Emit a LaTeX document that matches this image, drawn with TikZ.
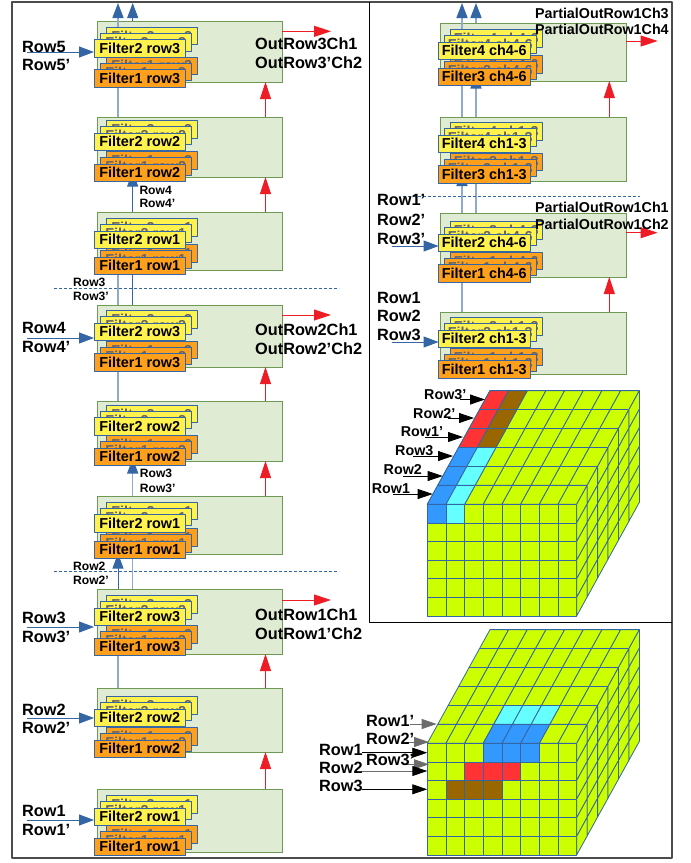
\documentclass[tikz,border=0pt]{standalone}
\usepackage{fontspec}
\setmainfont{Liberation Sans}
\usetikzlibrary{arrows.meta}
\pgfdeclarelayer{boxes}
\pgfdeclarelayer{wires}
\pgfsetlayers{boxes,wires,main}

\definecolor{boxgreen}{HTML}{DFECD3}
\definecolor{boxedge}{HTML}{6F9A55}
\definecolor{sheetyellow}{HTML}{FFF24D}
\definecolor{sheetorange}{HTML}{FFA01C}
\definecolor{wireblue}{HTML}{3465A4}
\definecolor{wirelight}{HTML}{8FAACC}
\definecolor{arrowred}{HTML}{EE1C25}
\definecolor{cellgreen}{HTML}{CCFF00}
\definecolor{cellblue}{HTML}{3399FF}
\definecolor{cellcyan}{HTML}{66FFFF}
\definecolor{cellred}{HTML}{FF3333}
\definecolor{cellbrown}{HTML}{996600}

% One stack of filter sheets: name, x, top of yellow, top of orange, two labels
\newcommand{\filterstack}[6]{
  \node[sheet,backsheet,fill=sheetyellow] (fyc#1) at (#2+12,#3) {\raisebox{-1.3pt}{#5}};
  \node[sheet,backsheet,fill=sheetyellow] (fyb#1) at (#2+6,#3+6.2) {\raisebox{-1.3pt}{#5}};
  \node[sheet,backsheet,fill=sheetorange] (foc#1) at (#2+12,#4) {\raisebox{-1.3pt}{#6}};
  \node[sheet,backsheet,fill=sheetorange] (fob#1) at (#2+6,#4+6.2) {\raisebox{-1.3pt}{#6}};
  \node[sheet,fill=sheetyellow] (fy#1) at (#2,#3+12.4) {#5};
  \node[sheet,fill=sheetorange] (fo#1) at (#2,#4+12.4) {#6};
}
% Single cells of a cube; origin is the upper left corner of the front face
\newcommand{\cubetop}[3]{\filldraw[cubeline,fill=#1]
  ({#2*18.67+#3*10.45},{-#3*18.95}) -- ++(18.67,0) -- ++(10.45,-18.95)
  -- ++(-18.67,0) -- cycle;}
\newcommand{\cubefront}[3]{\filldraw[cubeline,fill=#1]
  ({#2*18.67},{#3*18.6}) rectangle ++(18.67,18.6);}
\newcommand{\cubeside}[2]{\filldraw[cubeline,fill=cellgreen]
  ({149.4+#1*10.45},{#2*18.6-#1*18.95}) -- ++(10.45,-18.95) -- ++(0,18.6)
  -- ++(-10.45,18.95) -- cycle;}
\newcommand{\cubeplain}{
  \foreach \l in {0,...,5} \foreach \c in {0,...,7} \cubetop{cellgreen}{\c}{\l};
  \foreach \r in {0,...,5} \foreach \c in {0,...,7} \cubefront{cellgreen}{\c}{\r};
  \foreach \l in {0,...,5} \foreach \r in {0,...,5} \cubeside{\l}{\r};
}

\begin{document}
\begin{tikzpicture}[x=1pt,y=-1pt,line join=round,
    rowbox/.style={draw=boxedge,fill=boxgreen,line width=.9pt,anchor=north west,
      inner sep=0pt,outer sep=0pt},
    sheet/.style={draw=wireblue,line width=.9pt,anchor=north west,inner sep=0pt,
      outer sep=0pt,minimum width=91.5pt,minimum height=17.5pt,
      font=\fontsize{14.4}{16}\selectfont\bfseries},
    backsheet/.style={text=black!60},
    biglabel/.style={anchor=west,inner sep=0pt,font=\fontsize{16.3}{18}\selectfont\bfseries},
    midlabel/.style={anchor=west,inner sep=0pt,font=\fontsize{14.3}{16}\selectfont\bfseries},
    smalllabel/.style={anchor=west,inner sep=0pt,font=\fontsize{12.1}{14}\selectfont\bfseries},
    bluearrow/.style={-{Triangle[length=15pt,width=11pt]},wireblue,line width=.9pt},
    lightarrow/.style={-{Triangle[length=15pt,width=11pt,color=wireblue]},wirelight,line width=1.5pt},
    redarrow/.style={-{Triangle[length=17pt,width=11pt]},arrowred,line width=.9pt},
    blackarrow/.style={-{Triangle[length=15pt,width=10pt]},black,line width=.8pt},
    greyarrow/.style={-{Triangle[length=15pt,width=10pt]},gray!85!black,line width=.9pt},
    mixarrow/.style={-{Triangle[length=15pt,width=10pt,color=black]},gray!85!black,line width=.9pt},
    lightline/.style={wirelight,line width=1.5pt},
    darkline/.style={wireblue,line width=.9pt},
    cutline/.style={wireblue,line width=.6pt,dash pattern=on 3pt off 2pt},
    cubeline/.style={draw=wireblue,line width=.8pt}]
  \useasboundingbox (0,0) rectangle (691,863);

  % Frames
  \draw[black!70,line width=1.2pt] (12,2) rectangle (672,858);
  \draw[black,line width=.9pt] (369,2) -- (369,622) -- (672,622);

  % Green boxes of both columns
  \begin{pgfonlayer}{boxes}
  \foreach \n/\t/\h in {1/21/61,2/117/60,3/212/58,4/305/62,5/401/60,6/496/58,7/589/65,8/688/64,9/789/63}
    \node[rowbox,minimum width=185pt,minimum height=\h pt] (bl\n) at (97,\t) {};
  \foreach \n/\t/\h in {1/23/58,2/117/64,3/213/64,4/312/62}
    \node[rowbox,minimum width=186pt,minimum height=\h pt] (cl\n) at (440,\t) {};
  \end{pgfonlayer}

  % Filter sheets, left column
  \filterstack{1}{94}{27.3}{57.1}{Filter2 row3}{Filter1 row3}
  \filterstack{2}{94}{120.6}{151.6}{Filter2 row2}{Filter1 row2}
  \filterstack{3}{94}{218.6}{244.6}{Filter2 row1}{Filter1 row1}
  \filterstack{4}{94}{310.6}{341.2}{Filter2 row3}{Filter1 row3}
  \filterstack{5}{94}{405.2}{435.6}{Filter2 row2}{Filter1 row2}
  \filterstack{6}{94}{502.1}{528.6}{Filter2 row1}{Filter1 row1}
  \filterstack{7}{94}{595.6}{625.6}{Filter2 row3}{Filter1 row3}
  \filterstack{8}{94}{696.6}{727.6}{Filter2 row2}{Filter1 row2}
  \filterstack{9}{94}{795.6}{825.6}{Filter2 row1}{Filter1 row1}
  % Filter sheets, right column
  \filterstack{r1}{438.6}{29.6}{55.6}{Filter4 ch4-6}{Filter3 ch4-6}
  \filterstack{r2}{438.6}{122.6}{153.1}{Filter4 ch1-3}{Filter3 ch1-3}
  \filterstack{r3}{438.6}{221.6}{252.2}{Filter2 ch4-6}{Filter1 ch4-6}
  \filterstack{r4}{438.6}{317.6}{348.2}{Filter2 ch1-3}{Filter1 ch1-3}

  \coordinate (xa) at (118,0);
  \coordinate (xb) at (132.7,0);
  \coordinate (xc) at (462,0);
  \coordinate (xd) at (476,0);
  \coordinate (xr) at (265.5,0);
  \coordinate (xs) at (609.3,0);
  \coordinate (topend) at (0,3);

  % Connectors lie behind the sheets
  \begin{pgfonlayer}{wires}
    \draw[lightarrow] (xa |- fyc1.north) -- (xa |- topend);
    \draw[bluearrow] (xb |- bl1.north) -- (xb |- topend);
    \draw[lightline] (xa |- bl2.north) -- (xa |- fo1.south);
    \draw[bluearrow,shorten >=-10pt] (xb |- bl3.north) -- (xb |- fo2.south);
    \draw[lightline] (xa |- bl4.north) -- (xa |- fo3.south);
    \draw[darkline] (xb |- bl4.north) -- (xb |- fo3.south);
    \draw[lightline] (xa |- bl5.north) -- (xa |- fo4.south);
    \draw[lightarrow,shorten >=-7pt] (xb |- bl6.north) -- (xb |- fo5.south);
    \draw[bluearrow,shorten >=-5pt] (xa |- bl7.north) -- (xa |- fo6.south);
    \draw[lightline] (xb |- bl7.north) -- (xb |- fo6.south);
    \draw[lightline,line width=1.2pt] (xa |- bl8.north) -- (xa |- fo7.south);

    \draw[lightarrow] (xc |- fycr1.north) -- (xc |- topend);
    \draw[lightarrow] (xd |- cl1.north) -- (xd |- topend);
    \draw[lightline] (xc |- cl2.north) -- (xc |- for1.south);
    \draw[lightarrow,shorten >=-12pt] (xd |- cl2.north) -- (xd |- for1.south);
    \draw[lightarrow,shorten >=-12pt] (xc |- cl3.north) -- (xc |- for2.south);
    \draw[lightline] (xd |- cl3.north) -- (xd |- for2.south);
    \draw[lightline,line width=1.2pt] (xc |- cl4.north) -- (xc |- for3.south);

    % Red results going up and out
    \foreach \a/\b in {2/1,3/2,5/4,6/5,8/7,9/8}
      \draw[redarrow] (xr |- bl\a.north) -- (xr |- bl\b.south);
    \foreach \a/\b in {2/1,4/3}
      \draw[redarrow] (xs |- cl\a.north) -- (xs |- cl\b.south);
    \foreach \n/\y in {1/31.3,4/315,7/600}{
      \coordinate (out\n) at (331,\y);
      \draw[redarrow] (bl\n.east |- out\n) -- (out\n);
    }
    \foreach \n/\y in {1/41,3/232.7}{
      \coordinate (outr\n) at (657.6,\y);
      \draw[redarrow] (cl\n.east |- outr\n) -- (outr\n);
    }

    % Rows coming in
    \foreach \n/\y in {1/52,4/338,7/627,8/718,9/820}{
      \coordinate (in\n) at (27,\y);
      \draw[bluearrow] (in\n) -- (in\n -| fy\n.west);
    }
    \foreach \n/\y in {r3/246,r4/342}{
      \coordinate (in\n) at (391.7,\y);
      \draw[bluearrow] (in\n) -- (in\n -| fy\n.west);
    }
  \end{pgfonlayer}

  % Cuts between the rows
  \foreach \n/\a/\b/\y in {1/54/339/288,2/54/339/571.3,3/403/640/196.5}{
    \coordinate (cuta\n) at (\a,\y);
    \coordinate (cutb\n) at (\b,\y);
    \draw[cutline] (cuta\n) -- (cutb\n);
  }

  % Upper cube
  \begin{scope}[shift={(427.3,504.3)}]
    \cubeplain
    \foreach \l in {0,1,2} {\cubetop{cellblue}{0}{\l} \cubetop{cellcyan}{1}{\l}}
    \foreach \l in {3,4,5} {\cubetop{cellred}{0}{\l} \cubetop{cellbrown}{1}{\l}}
    \cubefront{cellblue}{0}{0}
    \cubefront{cellcyan}{1}{0}
  \end{scope}

  % Lower cube
  \begin{scope}[shift={(427.3,743.3)}]
    \cubeplain
    \foreach \c in {3,4,5} {\cubetop{cellblue}{\c}{0} \cubetop{cellcyan}{\c}{1}
      \cubefront{cellblue}{\c}{0}}
    \foreach \c in {2,3,4} \cubefront{cellred}{\c}{1};
    \foreach \c in {1,2,3} \cubefront{cellbrown}{\c}{2};
  \end{scope}

  % Arrows onto the cubes
  \foreach \n/\a/\b/\y in {a/460/485/399.5,b/448/474/418,c/425/463/437,d/413/453/456,e/403/442.7/476,f/393/432.7/494}{
    \coordinate (fr\n) at (\a,\y);
    \coordinate (to\n) at (\b,\y);
    \draw[blackarrow] (fr\n) -- (to\n);
  }
  \foreach \n/\a/\b/\y in {g/410/436.7/724,h/405/429/742,i/405/429/764.3}{
    \coordinate (fr\n) at (\a,\y);
    \coordinate (to\n) at (\b,\y);
    \draw[greyarrow] (fr\n) -- (to\n);
  }
  \foreach \n/\a/\b/\y/\s in {j/362/427.3/752.7/blackarrow,k/362/427.3/771/mixarrow,l/362/427.3/789.3/blackarrow}{
    \coordinate (fr\n) at (\a,\y);
    \coordinate (to\n) at (\b,\y);
    \draw[\s] (fr\n) -- (to\n);
  }

  % Labels
  \foreach \n/\x/\y/\t in {a/22/47/Row5,b/22/65/Row5’,c/22/328/Row4,d/22/347/Row4’,
      e/22/618/Row3,f/22/637/Row3’,g/22/710/Row2,h/22/728/Row2’,i/22/811/Row1,j/22/830/Row1’,
      k/255/43.7/OutRow3Ch1,l/255/62.6/OutRow3’Ch2,m/255/330/OutRow2Ch1,n/255/349/OutRow2’Ch2,
      o/255/615/OutRow1Ch1,p/255/634/OutRow1’Ch2,
      q/377/200/Row1’,r/377/220/Row2’,s/377/239/Row3’,t/377/298/Row1,u/377/316/Row2,v/377/335/Row3,
      w/366/720.7/Row1’,x/366/738.5/Row2’,y/366/760/Row3’,z/319/750/Row1,aa/319/768/Row2,ab/319/786/Row3}
    \node[biglabel] (lab\n) at (\x,\y) {\t};
  \foreach \n/\y/\t in {a/13/PartialOutRow1Ch3,b/29.6/PartialOutRow1Ch4,c/207.6/PartialOutRow1Ch1,d/224.6/PartialOutRow1Ch2}
    \node[midlabel] (part\n) at (535,\y) {\t};
  \foreach \n/\x/\y/\t in {a/424/395/Row3’,b/413/413.6/Row2’,c/400.7/432/Row1’,d/395/451/Row3,e/383.5/470/Row2,f/371.7/489/Row1}
    \node[midlabel] (cube\n) at (\x,\y) {\t};
  \foreach \n/\x/\y/\t in {a/139.3/190/Row4,b/139.3/203.5/Row4’,c/73/282/Row3,d/73/296.6/Row3’,
      e/139.7/473.7/Row3,f/139.7/488/Row3’,g/73/566/Row2,h/73/580/Row2’}
    \node[smalllabel] (small\n) at (\x,\y) {\t};
\end{tikzpicture}
\end{document}
